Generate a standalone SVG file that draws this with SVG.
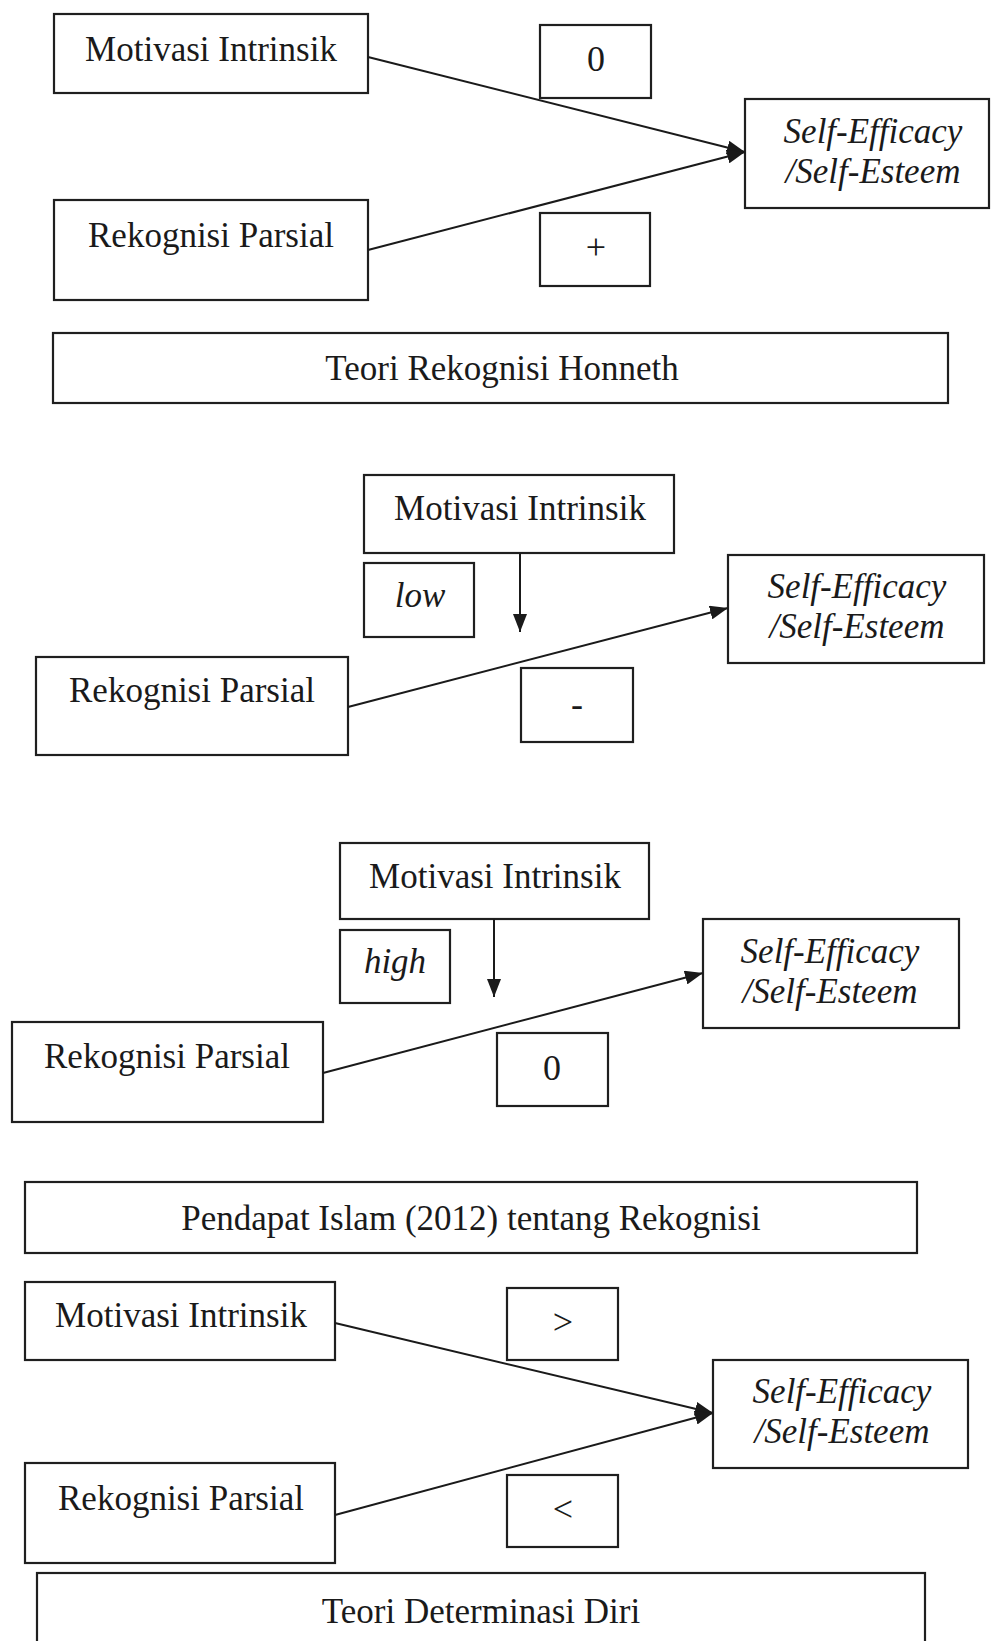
<svg xmlns="http://www.w3.org/2000/svg" width="992" height="1641" viewBox="0 0 992 1641">
  <defs>
    <marker id="arrow" markerUnits="userSpaceOnUse" markerWidth="18" markerHeight="14" refX="18" refY="7" orient="auto">
      <path d="M0,0 L18,7 L0,14 Z" fill="#1a1a1a"/>
    </marker>
    <style>
      .box { fill: #ffffff; stroke: #1f1f1f; stroke-width: 2.2; }
      .lbl { font-family: "Liberation Serif", "Times New Roman", serif; font-size: 35px; fill: #1a1a1a; text-anchor: middle; }
      .it { font-style: italic; }
      .sign { font-family: "Liberation Serif", "Times New Roman", serif; font-size: 36px; fill: #1a1a1a; text-anchor: middle; }
      .edge { stroke: #1a1a1a; stroke-width: 2; fill: none; }
    </style>
  </defs>
  <rect width="992" height="1641" fill="#ffffff"/>

  <!-- Panel 1: Teori Rekognisi Honneth -->
  <g id="p1-motivasi"><rect class="box" x="54" y="14" width="314" height="79"/><text class="lbl" x="211" y="61">Motivasi Intrinsik</text></g>
  <g id="p1-rekognisi"><rect class="box" x="54" y="200" width="314" height="100"/><text class="lbl" x="211" y="247">Rekognisi Parsial</text></g>
  <g id="p1-sign-zero"><rect class="box" x="540" y="25" width="111" height="73"/><text class="sign" x="596" y="71">0</text></g>
  <g id="p1-sign-plus"><rect class="box" x="540" y="213" width="110" height="73"/><text class="sign" x="596" y="259">+</text></g>
  <g id="p1-outcome"><rect class="box" x="745" y="99" width="244" height="109"/><text class="lbl it" x="873" y="143">Self-Efficacy</text><text class="lbl it" x="873" y="183">/Self-Esteem</text></g>
  <g id="p1-theory"><rect class="box" x="53" y="333" width="895" height="70"/><text class="lbl" x="502" y="380">Teori Rekognisi Honneth</text></g>

  <!-- Panel 2: low intrinsic motivation -->
  <g id="p2-motivasi"><rect class="box" x="364" y="475" width="310" height="78"/><text class="lbl" x="520" y="520">Motivasi Intrinsik</text></g>
  <g id="p2-low"><rect class="box" x="364" y="563" width="110" height="74"/><text class="lbl it" x="420" y="607">low</text></g>
  <g id="p2-rekognisi"><rect class="box" x="36" y="657" width="312" height="98"/><text class="lbl" x="192" y="702">Rekognisi Parsial</text></g>
  <g id="p2-sign-minus"><rect class="box" x="521" y="668" width="112" height="74"/><text class="sign" x="577" y="716">-</text></g>
  <g id="p2-outcome"><rect class="box" x="728" y="555" width="256" height="108"/><text class="lbl it" x="857" y="598">Self-Efficacy</text><text class="lbl it" x="857" y="638">/Self-Esteem</text></g>

  <!-- Panel 3: high intrinsic motivation -->
  <g id="p3-motivasi"><rect class="box" x="340" y="843" width="309" height="76"/><text class="lbl" x="495" y="888">Motivasi Intrinsik</text></g>
  <g id="p3-high"><rect class="box" x="340" y="930" width="110" height="73"/><text class="lbl it" x="395" y="973">high</text></g>
  <g id="p3-rekognisi"><rect class="box" x="12" y="1022" width="311" height="100"/><text class="lbl" x="167" y="1068">Rekognisi Parsial</text></g>
  <g id="p3-sign-zero"><rect class="box" x="497" y="1033" width="111" height="73"/><text class="sign" x="552" y="1080">0</text></g>
  <g id="p3-outcome"><rect class="box" x="703" y="919" width="256" height="109"/><text class="lbl it" x="830" y="963">Self-Efficacy</text><text class="lbl it" x="830" y="1003">/Self-Esteem</text></g>

  <!-- Panel 4: Pendapat Islam / Teori Determinasi Diri -->
  <g id="p4-islam"><rect class="box" x="25" y="1182" width="892" height="71"/><text class="lbl" x="471" y="1230">Pendapat Islam (2012) tentang Rekognisi</text></g>
  <g id="p4-motivasi"><rect class="box" x="25" y="1282" width="310" height="78"/><text class="lbl" x="181" y="1327">Motivasi Intrinsik</text></g>
  <g id="p4-rekognisi"><rect class="box" x="25" y="1463" width="310" height="100"/><text class="lbl" x="181" y="1510">Rekognisi Parsial</text></g>
  <g id="p4-sign-gt"><rect class="box" x="507" y="1288" width="111" height="72"/><text class="sign" x="563" y="1334">&gt;</text></g>
  <g id="p4-sign-lt"><rect class="box" x="507" y="1475" width="111" height="72"/><text class="sign" x="563" y="1521">&lt;</text></g>
  <g id="p4-outcome"><rect class="box" x="713" y="1360" width="255" height="108"/><text class="lbl it" x="842" y="1403">Self-Efficacy</text><text class="lbl it" x="842" y="1443">/Self-Esteem</text></g>
  <g id="p4-theory"><rect class="box" x="37" y="1573" width="888" height="80"/><text class="lbl" x="481" y="1623">Teori Determinasi Diri</text></g>

  <!-- Connectors -->
  <g id="connectors">
    <line class="edge" x1="368" y1="57" x2="745" y2="152" marker-end="url(#arrow)"/>
    <line class="edge" x1="368" y1="250" x2="745" y2="152" marker-end="url(#arrow)"/>

    <line class="edge" x1="520" y1="553" x2="520" y2="632" marker-end="url(#arrow)"/>
    <line class="edge" x1="348" y1="707" x2="728" y2="608" marker-end="url(#arrow)"/>

    <line class="edge" x1="494" y1="919" x2="494" y2="997" marker-end="url(#arrow)"/>
    <line class="edge" x1="323" y1="1073" x2="703" y2="973" marker-end="url(#arrow)"/>

    <line class="edge" x1="335" y1="1323" x2="713" y2="1413" marker-end="url(#arrow)"/>
    <line class="edge" x1="335" y1="1515" x2="713" y2="1413" marker-end="url(#arrow)"/>
  </g>
</svg>
